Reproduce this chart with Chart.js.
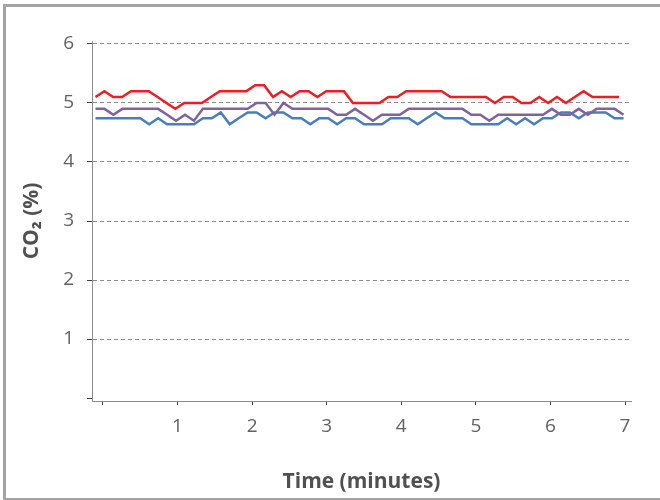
<!DOCTYPE html>
<html>
<head>
<meta charset="utf-8">
<script src="https://cdn.jsdelivr.net/npm/chart.js@4.4.1/dist/chart.umd.min.js"></script>
<style>
    body { margin: 0; background: #fff; }
    #wrap { position: relative; width: 660px; height: 500px; }
    #frame {
        position: absolute; left: 3px; top: 4px; width: 680px; height: 496px;
        box-sizing: border-box; pointer-events: none;
        border-style: solid; border-color: #a3a3a3;
        border-width: 3px 0 2px 3px;
    }
</style>
</head>
<body>
<div id="wrap">
    <canvas id="co2Chart" width="660" height="500"></canvas>
    <div id="frame"></div>
</div>
<script>
// Readings taken every ~7 seconds, CO2 in %
const sampleStart = -0.1;      // minutes
const redInterval = 0.119;     // minutes between readings
const otherInterval = 0.12;

const redSeries = [5.1, 5.2, 5.1, 5.1, 5.2, 5.2, 5.2, 5.1, 5.0, 4.9,
    5.0, 5.0, 5.0, 5.1, 5.2, 5.2, 5.2, 5.2, 5.3, 5.3,
    5.1, 5.2, 5.1, 5.2, 5.2, 5.1, 5.2, 5.2, 5.2, 5.0,
    5.0, 5.0, 5.0, 5.1, 5.1, 5.2, 5.2, 5.2, 5.2, 5.2,
    5.1, 5.1, 5.1, 5.1, 5.1, 5.0, 5.1, 5.1, 5.0, 5.0,
    5.1, 5.0, 5.1, 5.0, 5.1, 5.2, 5.1, 5.1, 5.1, 5.1];

const purpleSeries = [4.9, 4.9, 4.8, 4.9, 4.9, 4.9, 4.9, 4.9, 4.8, 4.7,
    4.8, 4.7, 4.9, 4.9, 4.9, 4.9, 4.9, 4.9, 5.0, 5.0,
    4.8, 5.0, 4.9, 4.9, 4.9, 4.9, 4.9, 4.8, 4.8, 4.9,
    4.8, 4.7, 4.8, 4.8, 4.8, 4.9, 4.9, 4.9, 4.9, 4.9,
    4.9, 4.9, 4.8, 4.8, 4.7, 4.8, 4.8, 4.8, 4.8, 4.8,
    4.8, 4.9, 4.8, 4.8, 4.9, 4.8, 4.9, 4.9, 4.9, 4.8];

const blueSeries = [4.74, 4.74, 4.74, 4.74, 4.74, 4.74, 4.64, 4.74, 4.64, 4.64,
    4.64, 4.64, 4.74, 4.74, 4.84, 4.64, 4.74, 4.84, 4.84, 4.74,
    4.84, 4.84, 4.74, 4.74, 4.64, 4.74, 4.74, 4.64, 4.74, 4.74,
    4.64, 4.64, 4.64, 4.74, 4.74, 4.74, 4.64, 4.74, 4.84, 4.74,
    4.74, 4.74, 4.64, 4.64, 4.64, 4.64, 4.74, 4.64, 4.74, 4.64,
    4.74, 4.74, 4.84, 4.84, 4.74, 4.84, 4.84, 4.84, 4.74, 4.74];

const xTicks = [0, 1, 2, 3, 4, 5, 6, 7];
const yTicks = [0, 1, 2, 3, 4, 5, 6];

function toPoints(values, interval) {
    return values.map((v, i) => ({ x: sampleStart + i * interval, y: v }));
}

function createCo2Chart() {
    const ctx = document.getElementById('co2Chart').getContext('2d');
    const fontFamily = "'Open Sans', 'DejaVu Sans', sans-serif";

    new Chart(ctx, {
        type: 'line',
        data: {
            datasets: [
                { data: toPoints(redSeries, redInterval), borderColor: '#ee1d23' },
                { data: toPoints(purpleSeries, otherInterval), borderColor: '#7f63a1' },
                { data: toPoints(blueSeries, otherInterval), borderColor: '#4a7dbb' }
            ].map(ds => Object.assign(ds, {
                borderWidth: 2.5,
                pointRadius: 0,
                tension: 0,
                fill: false
            }))
        },
        options: {
            responsive: false,
            animation: false,
            layout: { padding: { top: 41, right: 29, left: 0, bottom: 0 } },
            plugins: {
                legend: { display: false },
                tooltip: { enabled: false }
            },
            scales: {
                x: {
                    type: 'linear',
                    min: -0.147,
                    max: 7.08,
                    afterFit: scale => { scale.height = 99; },
                    afterBuildTicks: scale => { scale.ticks = xTicks.map(v => ({ value: v })); },
                    grid: {
                        drawOnChartArea: false,
                        drawTicks: true,
                        tickLength: 4,
                        tickColor: '#404040'
                    },
                    border: { color: '#8c8c8c', width: 1 },
                    ticks: {
                        padding: 10,
                        color: '#626262',
                        font: { family: fontFamily, size: 19, weight: 'normal' },
                        callback: v => (v === 0 ? '' : v)
                    },
                    title: {
                        display: true,
                        text: 'Time (minutes)',
                        color: '#505050',
                        font: { family: fontFamily, size: 21, weight: 'bold' },
                        padding: { top: 0, bottom: 5 }
                    }
                },
                y: {
                    min: -0.05,
                    max: 6.05,
                    afterFit: scale => { scale.width = 92; },
                    afterBuildTicks: scale => { scale.ticks = yTicks.map(v => ({ value: v })); },
                    grid: {
                        color: c => (c.tick && c.tick.value === 0 ? 'rgba(0,0,0,0)' : '#8c8c8c'),
                        lineWidth: 1,
                        drawTicks: true,
                        tickLength: 5,
                        tickColor: '#404040'
                    },
                    border: { color: '#8c8c8c', width: 1, dash: [4, 3] },
                    ticks: {
                        padding: 13,
                        color: '#626262',
                        font: { family: fontFamily, size: 19, weight: 'normal' },
                        callback: v => (v === 0 ? '' : v)
                    },
                    title: {
                        display: true,
                        text: 'CO₂ (%)',
                        color: '#505050',
                        font: { family: fontFamily, size: 21, weight: 'bold' },
                        padding: { top: 19, bottom: 0 }
                    }
                }
            }
        }
    });
}

createCo2Chart();
</script>
</body>
</html>
